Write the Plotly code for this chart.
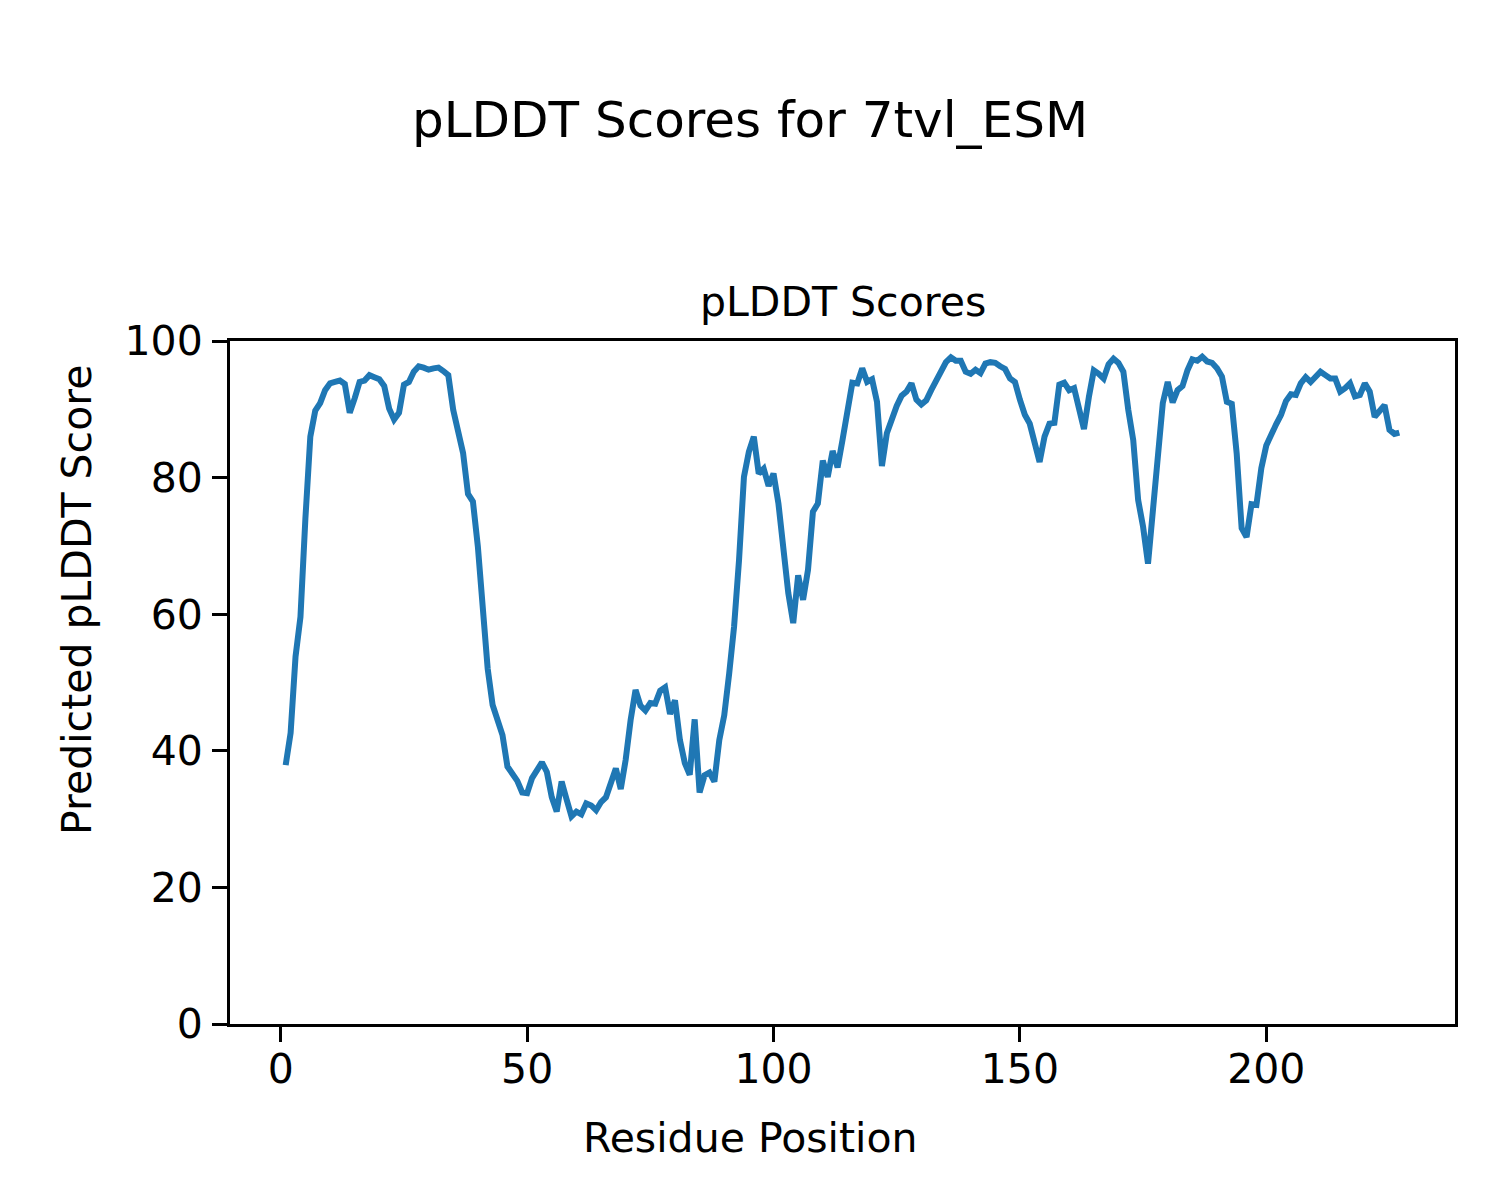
import plotly.graph_objects as go

residues = list(range(1, 228))
plddt = [
    37.9, 42.6, 53.8, 59.6, 74.0, 86.0, 89.8, 90.9, 92.8, 93.8,
    94.0, 94.2, 93.7, 89.5, 91.6, 94.0, 94.2, 95.0, 94.7, 94.4,
    93.4, 90.1, 88.5, 89.5, 93.6, 94.0, 95.5, 96.3, 96.1, 95.8,
    96.0, 96.1, 95.6, 95.0, 89.9, 86.7, 83.6, 77.6, 76.5, 69.9,
    60.5, 52.0, 46.7, 44.5, 42.3, 37.7, 36.7, 35.6, 33.9, 33.8,
    36.0, 37.1, 38.3, 36.9, 33.2, 31.1, 35.5, 32.9, 30.4, 31.1,
    30.7, 32.3, 32.0, 31.3, 32.5, 33.2, 35.6, 37.4, 34.4, 38.7,
    44.5, 48.9, 46.6, 45.9, 47.0, 46.9, 48.8, 49.3, 45.4, 47.4,
    41.6, 38.2, 36.5, 44.6, 33.9, 36.4, 36.8, 35.5, 41.6, 45.2,
    51.3, 58.2, 67.9, 80.1, 83.8, 86.0, 80.6, 81.3, 78.8, 80.6,
    76.2, 68.9, 63.1, 58.7, 65.7, 62.1, 66.5, 75.0, 76.2, 82.5,
    80.1, 83.9, 81.5, 85.5, 89.9, 93.9, 93.8, 96.0, 94.0, 94.4,
    91.1, 81.7, 86.5, 88.7, 90.5, 92.0, 92.6, 93.8, 91.4, 90.7,
    91.3, 92.8, 94.2, 95.7, 96.9, 97.6, 97.1, 97.1, 95.5, 95.2,
    95.8, 95.3, 96.7, 96.9, 96.8, 96.3, 95.9, 94.5, 94.0, 91.4,
    89.2, 87.9, 85.3, 82.3, 86.0, 87.9, 88.0, 93.6, 93.9, 92.8,
    93.1, 90.4, 87.1, 91.8, 95.7, 95.2, 94.5, 96.6, 97.4, 96.8,
    95.5, 89.9, 85.5, 76.7, 72.8, 67.4, 74.8, 83.1, 90.9, 94.0,
    91.0, 92.8, 93.4, 95.7, 97.3, 97.1, 97.7, 97.0, 96.8, 96.0,
    94.8, 91.1, 90.8, 83.5, 72.6, 71.3, 76.1, 76.0, 81.4, 84.7,
    86.5, 87.8, 89.2, 91.2, 92.2, 92.1, 93.8, 94.7, 94.0, 94.9,
    95.5, 95.0, 94.5, 94.5, 92.6, 93.1, 93.8, 91.9, 92.1, 93.8,
    92.6, 88.9, 89.8, 90.6, 87.0, 86.4, 86.6,
]
x_ticks = [0, 50, 100, 150, 200]
y_ticks = [0, 20, 40, 60, 80, 100]

suptitle = "pLDDT Scores for 7tvl_ESM"
axes_title = "pLDDT Scores"
x_label = "Residue Position"
y_label = "Predicted pLDDT Score"

FONT = "DejaVu Sans"
W, H = 1500, 1200
OFF = 8  # page body margin offset
# desired plot box in screen pixels
BOX_L, BOX_R, BOX_T, BOX_B = 230, 1455, 341, 1024
L = BOX_L - OFF
T = BOX_T - OFF
R = W - (BOX_R - OFF)
B = H - (BOX_B - OFF)

fig = go.Figure()
fig.add_trace(go.Scatter(
    x=residues, y=plddt, mode="lines",
    line=dict(color="#1f77b4", width=6),
    showlegend=False, hoverinfo="skip",
))

axis_common = dict(
    showgrid=False, zeroline=False,
    showline=True, linecolor="black", linewidth=3, mirror=True,
    ticks="outside", ticklen=15, tickwidth=3, tickcolor="black",
    tickfont=dict(family=FONT, size=41, color="black"),
)

span = residues[-1] - residues[0]
fig.update_xaxes(range=[residues[0] - 0.05 * span, residues[-1] + 0.05 * span],
                 tickvals=x_ticks, ticktext=[str(v) for v in x_ticks],
                 ticklabelstandoff=-8, **axis_common)
fig.update_yaxes(range=[0, 100], tickvals=y_ticks, ticktext=[str(v) for v in y_ticks],
                 ticklabelstandoff=1, **axis_common)

plot_h = BOX_B - BOX_T
plot_w = BOX_R - BOX_L

def py(p):
    return (BOX_B - p) / plot_h

def px(p):
    return (p - BOX_L) / plot_w

annotations = [
    dict(text=suptitle, x=px(750), y=py(120), xref="paper", yref="paper",
         showarrow=False, xanchor="center", yanchor="middle",
         font=dict(family=FONT, size=50, color="black")),
    dict(text=axes_title, x=0.5, y=py(302), xref="paper", yref="paper",
         showarrow=False, xanchor="center", yanchor="middle",
         font=dict(family=FONT, size=41, color="black")),
    dict(text=x_label, x=px(750), y=py(1138), xref="paper", yref="paper",
         showarrow=False, xanchor="center", yanchor="middle",
         font=dict(family=FONT, size=41, color="black")),
    dict(text=y_label, x=px(77), y=py(600), xref="paper", yref="paper",
         showarrow=False, xanchor="center", yanchor="middle", textangle=-90,
         font=dict(family=FONT, size=41, color="black")),
]

fig.update_layout(
    width=W, height=H,
    margin=dict(l=L, r=R, t=T, b=B, pad=0),
    paper_bgcolor="white", plot_bgcolor="white",
    annotations=annotations,
    font=dict(family=FONT, color="black"),
)

fig.write_html("out.html")
